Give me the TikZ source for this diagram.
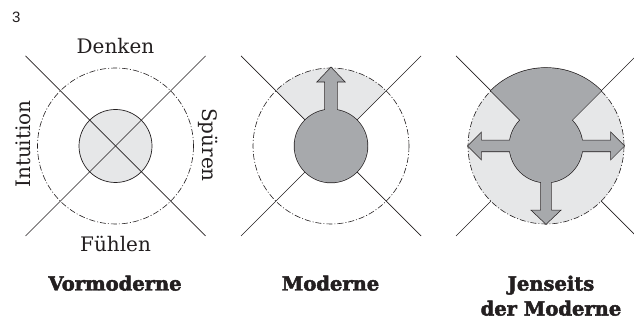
\documentclass[tikz,border=0pt]{standalone}
\usepackage{fontspec}
\setmainfont{DejaVu Serif}
\newfontfamily\capfont[FakeBold=2.5]{DejaVu Serif Bold}
\newfontfamily\numfont{Liberation Sans}
\usetikzlibrary{calc}
\definecolor{ink}{HTML}{231F20}
\definecolor{dk}{HTML}{A7A9AC}
\definecolor{lt}{HTML}{E6E7E8}
\begin{document}
\begin{tikzpicture}[x=1pt,y=1pt,
  thinline/.style={draw=ink,line width=0.7pt},
  dashdotcircle/.style={draw=ink,line width=0.6pt,dash pattern=on 6pt off 2pt on 1pt off 2pt},
  outl/.style={draw=ink,line width=1.4pt},
  lbl/.style={font=\fontsize{20}{24}\selectfont, text=ink, inner sep=0pt},
  capt/.style={font=\capfont\fontsize{19.5}{25}\selectfont, text=ink, align=center, inner sep=0pt}]
\useasboundingbox (0,0) rectangle (634,320);
\node[font=\numfont\fontsize{15}{18}\selectfont, text=ink, anchor=base west, inner sep=0pt] (num) at (12,297.5) {3};

% centers
\coordinate (A) at (115.5,174);
\coordinate (B) at (331,174);
\coordinate (C) at (546,174);
\foreach \P in {A,B,C}{
  \coordinate (\P nw) at ($(\P)+(-90,90)$);
  \coordinate (\P ne) at ($(\P)+(90,90)$);
  \coordinate (\P sw) at ($(\P)+(-90,-90)$);
  \coordinate (\P se) at ($(\P)+(90,-90)$);
}

% ---- Panel 1
\draw[dashdotcircle] (A) circle (78);
\draw[thinline, fill=lt] (A) circle (36.5);
\draw[thinline] (Anw) -- (Ase);
\draw[thinline] (Ane) -- (Asw);
\node[lbl, anchor=base] (denken) at (115.5,266) {Denken};
\node[lbl, anchor=base] (fuehlen) at (115.5,68.5) {Fühlen};
\node[lbl, anchor=base, rotate=90] (intuition) at (30,176) {Intuition};
\node[lbl, anchor=base, rotate=-90] (spueren) at (202.5,175) {Spüren};
\node[capt, anchor=base] (cap1) at (115,29.5) {Vormoderne};

% ---- Panel 2
\fill[lt] ($(B)+(45:30)$) -- ($(B)+(45:78)$) arc[start angle=45,end angle=135,radius=78] -- ($(B)+(135:30)$) -- cycle;
\draw[dashdotcircle] (B) circle (78);
\draw[thinline] (Bnw) -- (Bse);
\draw[thinline] (Bne) -- (Bsw);
\begin{scope}[shift={(B)}]
  \def\uparr{(-6,20) -- (-6,64.3) -- (-13.3,64.3) -- (0,78.3) -- (13.3,64.3) -- (6,64.3) -- (6,20) -- cycle}
  \draw[outl] (0,0) circle (36.5);
  \draw[outl] \uparr;
  \fill[dk] (0,0) circle (36.5);
  \fill[dk] \uparr;
\end{scope}
\node[capt, anchor=base] (cap2) at (330.5,29.5) {Moderne};

% ---- Panel 3
\fill[lt] (C) circle (78);
\draw[dashdotcircle] (C) circle (78);
\draw[thinline] (Cnw) -- ($(C)+(135:78)$);
\draw[thinline] (Cne) -- ($(C)+(45:78)$);
\draw[thinline] (Csw) -- ($(C)+(-135:78)$);
\draw[thinline] (Cse) -- ($(C)+(-45:78)$);
\begin{scope}[shift={(C)}]
  \def\dkshape{(135:78) arc[start angle=135,end angle=45,radius=78] -- (45:36.5) arc[start angle=45,end angle=-225,radius=36.5] -- cycle}
  \def\larr{(-20,-5.5) -- (-65,-5.5) -- (-65,-13) -- (-78,0) -- (-65,13) -- (-65,5.5) -- (-20,5.5) -- cycle}
  \def\rarr{(20,-5.5) -- (65,-5.5) -- (65,-13) -- (78,0) -- (65,13) -- (65,5.5) -- (20,5.5) -- cycle}
  \def\darr{(-5,-20) -- (-5,-64.5) -- (-14,-64.5) -- (0,-77.8) -- (14,-64.5) -- (5,-64.5) -- (5,-20) -- cycle}
  \draw[outl] \dkshape;
  \draw[outl] \larr;
  \draw[outl] \rarr;
  \draw[outl] \darr;
  \fill[dk] \dkshape;
  \fill[dk] \larr;
  \fill[dk] \rarr;
  \fill[dk] \darr;
\end{scope}
\node[capt, anchor=north] (cap3) at (551,44.5) {Jenseits\\der Moderne};
\end{tikzpicture}
\end{document}
